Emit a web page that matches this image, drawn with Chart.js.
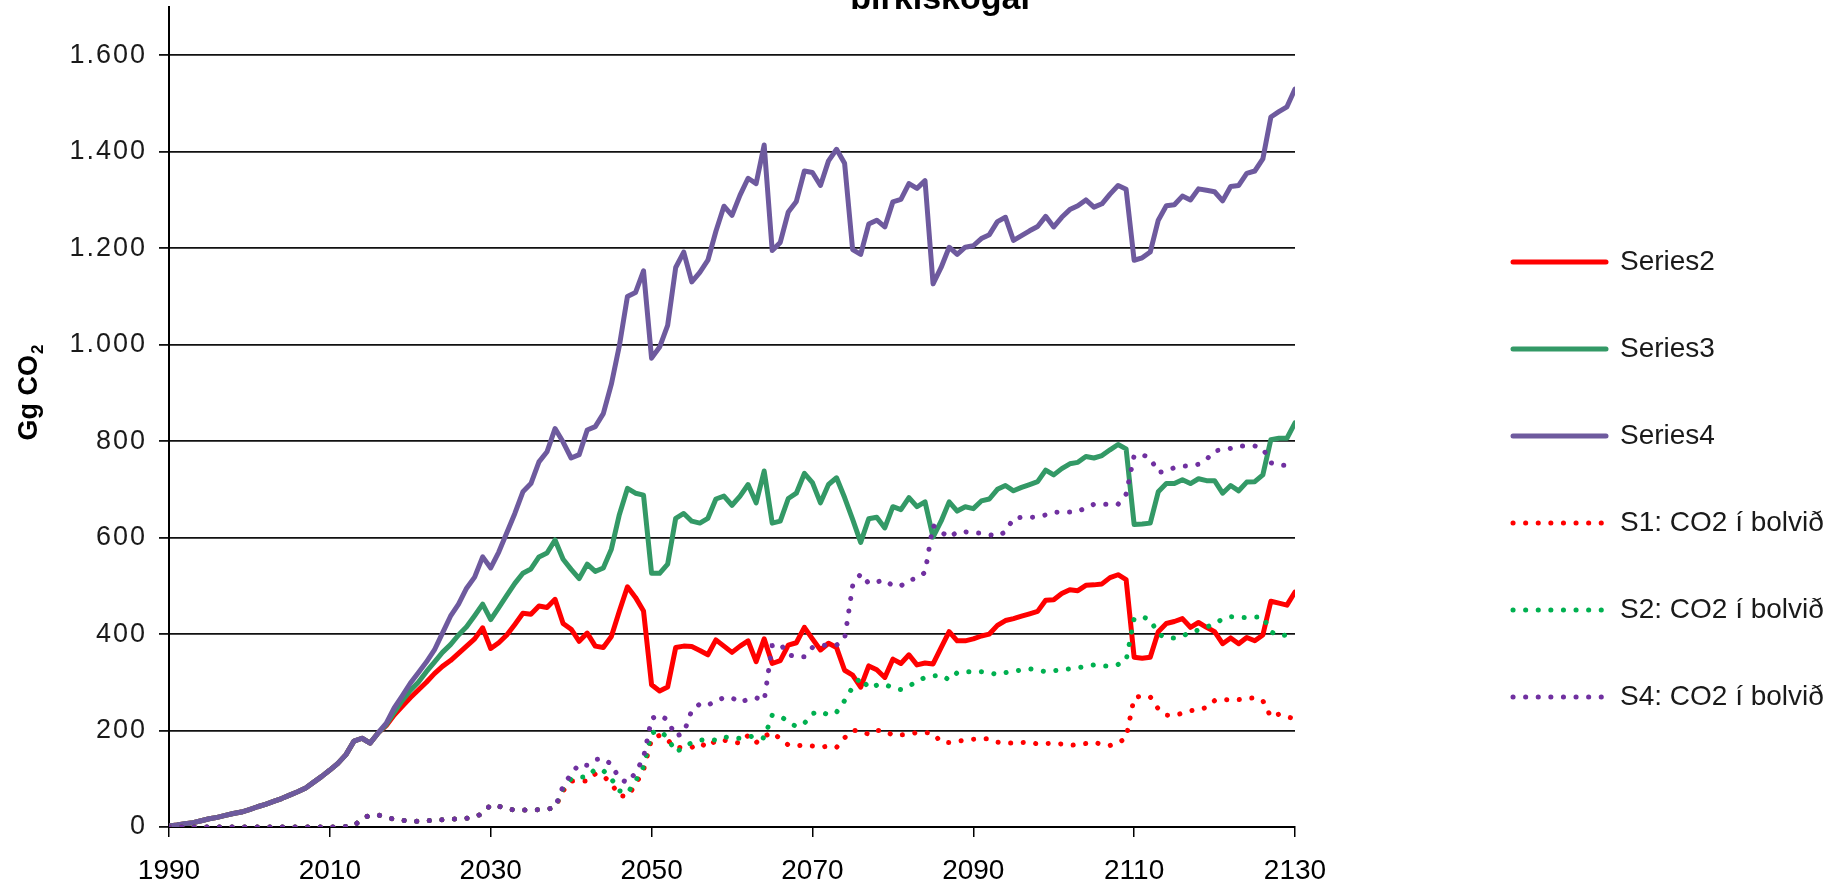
<!DOCTYPE html>
<html>
<head>
<meta charset="utf-8">
<script src="https://cdn.jsdelivr.net/npm/chart.js@4.4.1/dist/chart.umd.min.js"></script>
<style>
  html, body { margin: 0; padding: 0; background: #fff; }
</style>
</head>
<body>
<canvas id="chart" width="1837" height="882"></canvas>
<script>
// x categories: one value per year
const years = Array.from({ length: 141 }, (_, i) => 1990 + i);

// y axis tick values (Icelandic number format: 1.600)
const yTickValues = [0, 200, 400, 600, 800, 1000, 1200, 1400, 1600];

const chartTitle = 'birkiskógar';
const yTitle = 'Gg CO';

const series2 = [
  2, 4, 7, 9, 13, 17, 20, 24, 28, 31,
  36, 42, 47, 53, 59, 66, 73, 81, 93, 105,
  118, 132, 150, 178, 184, 174, 195, 210, 232, 250,
  268, 284, 300, 318, 333, 345, 360, 375, 390, 413,
  370, 382, 398, 420, 443, 441, 458, 455, 472, 422,
  410, 385, 402, 375, 372, 395, 448, 498, 476, 448,
  295, 282, 290, 372, 375, 374, 366, 357, 388, 375,
  362, 375, 386, 343, 390, 339, 345, 377, 382, 414,
  390, 367, 381, 372, 325, 315, 290, 334, 326, 310,
  348, 339, 357, 336, 340, 338, 372, 405, 386, 386,
  390, 396, 400, 418, 428, 432, 437, 442, 447, 470,
  471, 484, 492, 490, 501, 502, 504, 517, 523, 513,
  352, 350, 352, 405, 422, 426, 432, 414, 424, 414,
  405, 380, 392, 380, 393, 386, 398, 468, 464, 460,
  487
];

const series3 = [
  2, 4, 7, 9, 13, 17, 20, 24, 28, 31,
  36, 42, 47, 53, 59, 66, 73, 81, 93, 105,
  118, 132, 150, 178, 184, 174, 195, 212, 238, 262,
  283, 300, 322, 342, 362, 378, 398, 415, 438, 462,
  430, 455, 480, 505, 526, 535, 560, 568, 595, 555,
  534, 515, 545, 530, 537, 576, 648, 702, 692, 688,
  526, 526, 545, 640, 650, 634, 630, 640, 680, 686,
  667, 686, 710, 672, 738, 630, 634, 681, 692, 733,
  714, 672, 710, 724, 683, 638, 590, 639, 642, 620,
  664, 658, 683, 664, 674, 601, 634, 674, 655, 664,
  660, 676, 680, 700, 708, 697, 704, 710, 716, 740,
  730, 743, 753, 756, 768, 765, 770, 782, 793, 784,
  627, 628, 630, 695, 712, 712, 720, 712, 722, 718,
  718, 692, 708, 697, 715, 716, 730, 803, 806, 806,
  838
];

const series4 = [
  2, 4, 7, 9, 13, 17, 20, 24, 28, 31,
  36, 42, 47, 53, 59, 66, 73, 81, 93, 105,
  118, 132, 150, 178, 184, 174, 195, 215, 247, 272,
  298, 320, 342, 367, 402, 437, 462, 495, 518, 560,
  537, 570, 610, 650, 695, 712, 757, 778, 826, 798,
  765, 772, 823, 830, 857, 918, 998, 1100, 1108, 1153,
  972, 995, 1040, 1160, 1192, 1130, 1150, 1175, 1235, 1287,
  1268, 1310, 1345, 1334, 1414, 1195, 1212, 1275, 1297, 1360,
  1357, 1330, 1381, 1405, 1376, 1197, 1187, 1250, 1258, 1244,
  1296, 1301, 1334, 1324, 1340, 1126, 1160, 1202, 1187, 1202,
  1205, 1220, 1228, 1255, 1264, 1216, 1226, 1236, 1245, 1266,
  1244, 1264, 1280, 1288, 1300, 1285, 1292, 1312, 1330, 1322,
  1175, 1180, 1192, 1258, 1288, 1290, 1308, 1300, 1323, 1320,
  1317, 1298, 1328, 1330, 1355, 1360, 1385, 1472, 1483, 1493,
  1530
];

// CO2 in stem wood (dotted)
const s1Bol = [
  0, 0, 0, 0, 0, 0, 0, 0, 0, 0,
  0, 0, 0, 0, 0, 0, 0, 0, 0, 0,
  0, 0, 1, 2, 18, 24, 25, 20, 16, 14,
  12, 12, 13, 14, 15, 16, 17, 18, 21, 28,
  46, 43, 38, 35, 35, 35, 36, 37, 40, 75,
  95, 96, 95, 110, 106, 90, 65, 63, 88, 118,
  182, 190, 180, 165, 165, 165, 174, 165, 180, 180,
  176, 174, 190, 175, 188, 196, 183, 170, 168, 170,
  168, 165, 168, 165, 185, 200, 200, 192, 200, 200,
  190, 191, 192, 196, 196, 194, 176, 175, 178, 180,
  182, 183, 183, 176, 174, 174, 175, 176, 172, 173,
  174, 172, 169, 171, 173, 176, 171, 169, 174, 185,
  268, 272, 270, 245, 232, 231, 236, 241, 243, 248,
  262, 265, 263, 264, 266, 268, 262, 228, 234, 228,
  225
];

const s2Bol = [
  0, 0, 0, 0, 0, 0, 0, 0, 0, 0,
  0, 0, 0, 0, 0, 0, 0, 0, 0, 0,
  0, 0, 1, 2, 18, 24, 25, 20, 16, 14,
  12, 12, 13, 14, 15, 16, 17, 18, 21, 28,
  46, 43, 38, 35, 35, 35, 36, 37, 40, 80,
  100, 103, 104, 120, 117, 100, 75, 70, 95, 125,
  195, 200, 185, 155, 165, 175, 180, 182, 180, 187,
  184, 184, 186, 190, 184, 232, 230, 218, 208, 215,
  235, 240, 232, 238, 262, 290, 310, 288, 294, 296,
  288, 285, 292, 302, 310, 313, 315, 305, 320, 322,
  322, 322, 320, 316, 320, 322, 326, 328, 325, 322,
  324, 326, 328, 330, 333, 336, 334, 334, 337, 345,
  432, 436, 430, 400, 392, 392, 395, 405, 408, 415,
  420, 432, 436, 435, 434, 435, 436, 405, 396, 398,
  398
];

const s4Bol = [
  0, 0, 0, 0, 0, 0, 0, 0, 0, 0,
  0, 0, 0, 0, 0, 0, 0, 0, 0, 0,
  0, 0, 1, 2, 18, 24, 25, 20, 16, 14,
  12, 12, 13, 14, 15, 16, 17, 18, 21, 28,
  46, 43, 38, 35, 35, 35, 36, 37, 40, 85,
  110, 130, 128, 140, 142, 130, 100, 92, 112, 144,
  225, 232, 222, 188, 195, 242, 255, 252, 262, 268,
  268, 258, 265, 268, 262, 376, 380, 357, 353, 353,
  372, 377, 377, 377, 390, 500, 525, 505, 508, 512,
  500, 500, 512, 515, 528, 625, 612, 600, 612, 612,
  610, 609, 606, 603, 612, 640, 642, 642, 643, 647,
  653, 652, 653, 654, 662, 669, 669, 669, 669, 690,
  770, 772, 765, 735, 738, 745, 748, 749, 752, 762,
  780, 782, 785, 790, 790, 790, 785, 755, 750, 750,
  750
];

const FONT = '"Liberation Sans", Arial, sans-serif';

function solidLine(label, data, color, order) {
  return {
    label, data, order,
    yAxisID: 'y',
    borderColor: color,
    backgroundColor: color,
    borderWidth: 5,
    borderCapStyle: 'round',
    borderJoinStyle: 'round',
    pointRadius: 0,
    tension: 0
  };
}

function dottedLine(label, data, color, order) {
  return {
    label, data, order,
    yAxisID: 'y',
    borderColor: color,
    backgroundColor: color,
    borderWidth: 5,
    borderDash: [0.1, 12.5],
    borderCapStyle: 'round',
    pointRadius: 0,
    tension: 0
  };
}

// fixed legend width so the sample lines start where the reference has them
const legendWidthPlugin = {
  id: 'legendWidth',
  beforeUpdate(chart) {
    const legend = chart.legend;
    if (legend && !legend._fixedWidth) {
      const fit = legend.fit;
      legend.fit = function () {
        fit.call(this);
        this.width = 383;
      };
      legend._fixedWidth = true;
    }
  },
  beforeDraw(chart) {
    // a little letter spacing on the y tick labels
    const ys = chart.scales.y;
    if (ys && !ys._spaced) {
      const draw = ys.drawLabels;
      ys.drawLabels = function (area) {
        const c = this.ctx;
        const prev = c.letterSpacing;
        c.letterSpacing = '2px';
        draw.call(this, area);
        c.letterSpacing = prev;
      };
      ys._spaced = true;
    }
  }
};

// title above the plot and rotated y title with subscript
const textPlugin = {
  id: 'texts',
  afterDraw(chart) {
    const ctx = chart.ctx;
    ctx.save();
    ctx.fillStyle = '#000';
    ctx.font = 'bold 34px ' + FONT;
    ctx.textAlign = 'center';
    ctx.textBaseline = 'alphabetic';
    ctx.fillText(chartTitle, 942, 9);

    ctx.translate(30, 393);
    ctx.rotate(-Math.PI / 2);
    ctx.font = 'bold 27px ' + FONT;
    const w1 = ctx.measureText(yTitle).width;
    ctx.font = 'bold 17px ' + FONT;
    const w2 = ctx.measureText('2').width;
    const x0 = -(w1 + w2) / 2;
    ctx.textAlign = 'left';
    ctx.textBaseline = 'middle';
    ctx.font = 'bold 27px ' + FONT;
    ctx.fillText(yTitle, x0, 0);
    ctx.font = 'bold 17px ' + FONT;
    ctx.fillText('2', x0 + w1 + 1, 8);
    ctx.restore();
  }
};

const ctx = document.getElementById('chart').getContext('2d');
new Chart(ctx, {
  type: 'line',
  data: {
    labels: years,
    datasets: [
      solidLine('Series2', series2, '#FF0000', 6),
      solidLine('Series3', series3, '#339966', 5),
      solidLine('Series4', series4, '#6E5A9E', 4),
      dottedLine('S1: CO2 í bolvið', s1Bol, '#FF0000', 3),
      dottedLine('S2: CO2 í bolvið', s2Bol, '#00B050', 2),
      dottedLine('S4: CO2 í bolvið', s4Bol, '#7030A0', 1)
    ]
  },
  options: {
    responsive: false,
    animation: false,
    devicePixelRatio: 1,
    layout: {
      padding: { top: 7, right: 0, bottom: 0, left: 0 }
    },
    scales: {
      x: {
        type: 'linear',
        min: 1990,
        max: 2130,
        border: { display: true, color: '#000', width: 2 },
        grid: { drawOnChartArea: false, drawTicks: true, tickLength: 10, color: '#000', lineWidth: 1.5 },
        ticks: {
          stepSize: 20,
          padding: 17,
          color: '#000',
          font: { family: FONT, size: 28 },
          maxRotation: 0,
          callback: v => String(v)
        },
        afterFit(scale) { scale.height = 55; }
      },
      y: {
        min: 0,
        max: 1700,
        position: 'left',
        border: { display: true, color: '#000', width: 2 },
        grid: { color: '#111', lineWidth: 1.8, tickLength: 10 },
        ticks: {
          stepSize: 200,
          padding: 12,
          color: '#1a1a1a',
          font: { family: FONT, size: 27 },
          callback: v => v >= 1000 ? Math.floor(v / 1000) + '.' + String(v % 1000).padStart(3, '0') : String(v)
        },
        afterBuildTicks(scale) {
          scale.ticks = yTickValues.map(v => ({ value: v }));
        },
        afterFit(scale) {
          scale.width = 169;
          scale.paddingTop = 0;
          scale.paddingBottom = 0;
        }
      },
      gap: {
        type: 'linear',
        position: 'right',
        display: true,
        grid: { display: false, drawTicks: false },
        border: { display: false },
        ticks: { display: false },
        afterFit(scale) { scale.width = 159; }
      }
    },
    plugins: {
      title: { display: false },
      tooltip: { enabled: false },
      legend: {
        position: 'right',
        align: 'center',
        title: { display: true, text: '', font: { size: 10 }, padding: { top: 58, bottom: 0 } },
        labels: {
          usePointStyle: true,
          pointStyle: 'line',
          pointStyleWidth: 93,
          padding: 59,
          color: '#1a1a1a',
          font: { family: FONT, size: 28 },
          sort: (a, b) => a.datasetIndex - b.datasetIndex,
          generateLabels(chart) {
            const items = Chart.defaults.plugins.legend.labels.generateLabels(chart);
            items.forEach(it => {
              const ds = chart.data.datasets[it.datasetIndex];
              it.lineWidth = ds.borderWidth;
              it.lineDash = ds.borderDash || [];
              it.lineCap = ds.borderCapStyle;
              it.strokeStyle = ds.borderColor;
              it.pointStyle = 'line';
            });
            return items;
          }
        }
      }
    }
  },
  plugins: [legendWidthPlugin, textPlugin]
});
</script>
</body>
</html>
